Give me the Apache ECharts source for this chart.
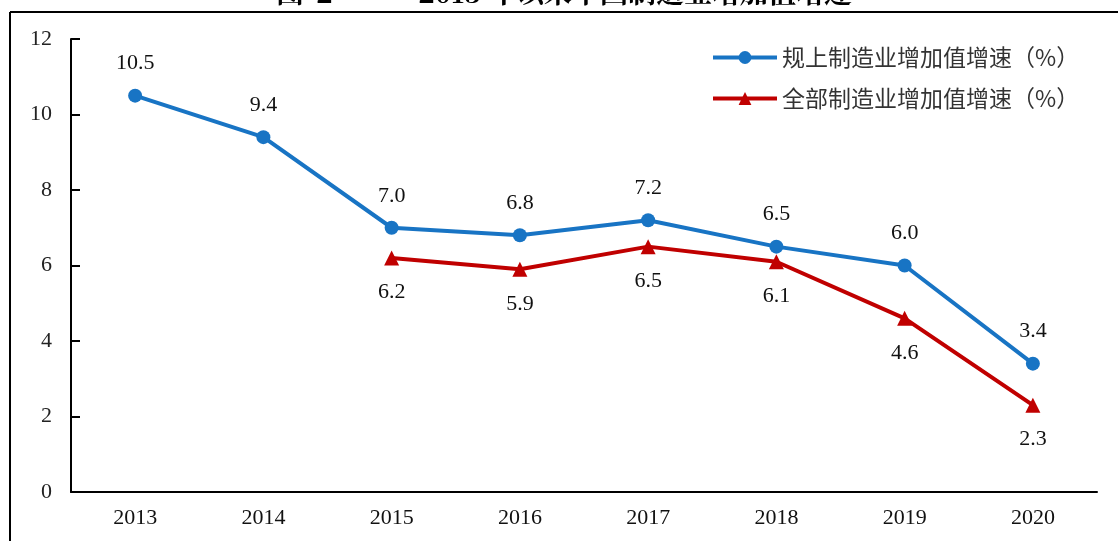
<!DOCTYPE html>
<html>
<head>
<meta charset="utf-8">
<script src="https://cdn.jsdelivr.net/npm/echarts@6/dist/echarts.min.js"></script>
<style>
  html, body { margin: 0; padding: 0; background: #fff; }
  #main { width: 1118px; height: 541px; }
</style>
</head>
<body>
<div id="main"></div>
<script>
// 数据
var years = ['2013', '2014', '2015', '2016', '2017', '2018', '2019', '2020']
var above_scale = [10.5, 9.4, 7.0, 6.8, 7.2, 6.5, 6.0, 3.4]
var all_mfg = [null, null, 6.2, 5.9, 6.5, 6.1, 4.6, 2.3]
var y_ticks = [0, 2, 4, 6, 8, 10, 12]

var serif = '"Liberation Serif", "DejaVu Serif", serif'
var cjk = '"Noto Sans CJK SC", sans-serif'
var title_font = '"Noto Serif CJK SC", "Noto Sans CJK SC", serif'

var myChart = echarts.init(document.getElementById('main'))

var option = {
    animation: false,
    backgroundColor: '#fff',
    grid: { left: 71, right: 21, top: 39, bottom: 49 },
    legend: {
        orient: 'vertical',
        left: 706,
        top: 41,
        itemWidth: 64,
        itemHeight: 16,
        itemGap: 18,
        lineStyle: { width: 4 },
        textStyle: { fontSize: 23, color: '#333', fontFamily: cjk },
        data: ['规上制造业增加值增速（%）', '全部制造业增加值增速（%）']
    },
    xAxis: {
        type: 'category',
        data: years,
        boundaryGap: true,
        axisLine: { lineStyle: { color: '#000', width: 2 } },
        axisTick: { inside: true, length: 9, lineStyle: { color: '#000', width: 2 } },
        axisLabel: { fontSize: 22, color: '#111', fontFamily: serif, margin: 15 }
    },
    yAxis: {
        type: 'value',
        min: y_ticks[0],
        max: y_ticks[y_ticks.length - 1],
        interval: 2,
        splitLine: { show: false },
        axisLine: { show: true, lineStyle: { color: '#000', width: 2 } },
        axisTick: { show: true, inside: true, length: 9, lineStyle: { color: '#000', width: 2 } },
        axisLabel: { fontSize: 22, color: '#222', fontFamily: serif, margin: 19 }
    },
    series: [
        {
            name: '规上制造业增加值增速（%）',
            type: 'line',
            data: above_scale,
            symbol: 'circle',
            symbolSize: 14,
            lineStyle: { color: '#1874C4', width: 4 },
            itemStyle: { color: '#1874C4' },
            label: {
                show: true,
                position: 'top',
                distance: 14,
                fontSize: 22,
                color: '#111',
                fontFamily: serif,
                formatter: function (p) { return p.value.toFixed(1) }
            }
        },
        {
            name: '全部制造业增加值增速（%）',
            type: 'line',
            data: all_mfg,
            symbol: 'triangle',
            symbolSize: 15,
            lineStyle: { color: '#C00000', width: 4 },
            itemStyle: { color: '#C00000' },
            label: {
                show: true,
                position: 'bottom',
                distance: 16,
                fontSize: 22,
                color: '#111',
                fontFamily: serif,
                formatter: function (p) { return p.value == null ? '' : p.value.toFixed(1) }
            }
        }
    ],
    graphic: [
        // 外框
        { type: 'line', shape: { x1: 10, y1: 12, x2: 1118, y2: 12 }, style: { stroke: '#000', lineWidth: 2 } },
        { type: 'line', shape: { x1: 10, y1: 12, x2: 10, y2: 541 }, style: { stroke: '#000', lineWidth: 2 } },
        // 被裁掉的标题
        {
            type: 'text', left: 276, top: -22,
            style: { text: '图', fontSize: 28, fontWeight: 'bold', fill: '#000', fontFamily: title_font }
        },
        {
            type: 'text', left: 316, top: -22,
            style: { text: '2', fontSize: 28, fontWeight: 'bold', fill: '#000', fontFamily: title_font }
        },
        {
            type: 'text', left: 418, top: -22,
            style: { text: '2013 年以来中国制造业增加值增速', fontSize: 28, fontWeight: 'bold', fill: '#000', fontFamily: title_font }
        }
    ]
}

myChart.setOption(option)
</script>
</body>
</html>
